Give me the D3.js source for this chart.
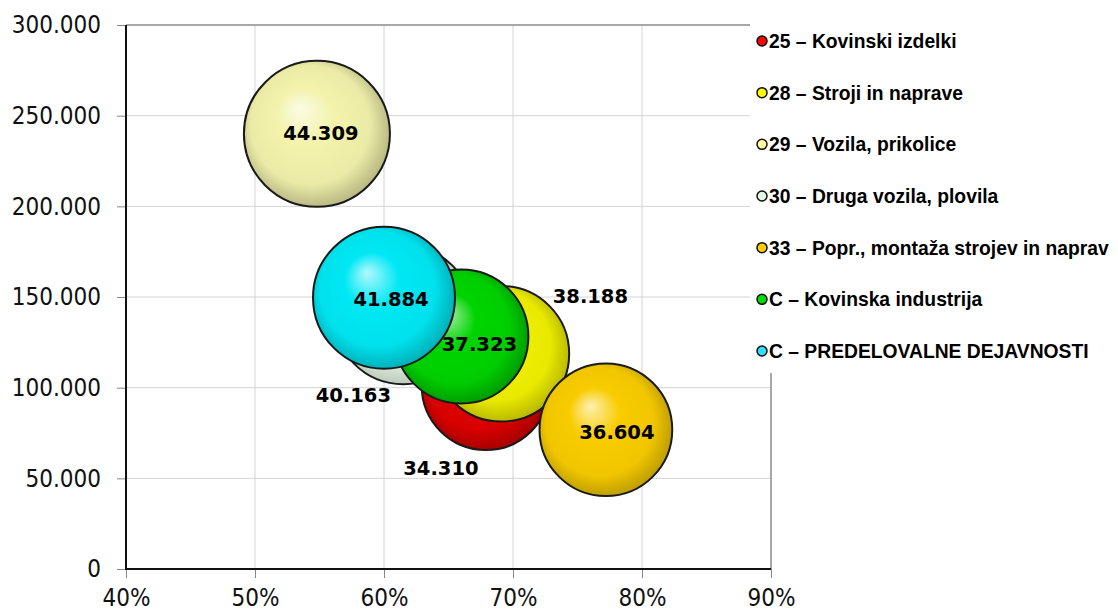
<!DOCTYPE html>
<html><head><meta charset="utf-8">
<script src="https://cdn.jsdelivr.net/npm/d3@7"></script>
<style>body{margin:0;background:#fff;} svg{display:block;}</style>
</head><body><svg id="c" width="1118" height="614"></svg>
<script>
// ---- data ----
const seriesNames = ["25 – Kovinski izdelki","28 – Stroji in naprave","29 – Vozila, prikolice","30 – Druga vozila, plovila","33 – Popr., montaža strojev in naprav","C – Kovinska industrija","C – PREDELOVALNE DEJAVNOSTI"];
const xValues = [0.679, 0.691, 0.548, 0.615, 0.772, 0.660, 0.600];
const yValues = [101000, 118700, 240000, 140200, 76800, 128200, 149600];
const bubbleSizes = [34.310, 38.188, 44.309, 40.163, 36.604, 37.323, 41.884];
const bubbleLabels = ["34.310","38.188","44.309","40.163","36.604","37.323","41.884"];
const xTicks = [0.4, 0.5, 0.6, 0.7, 0.8, 0.9];
const yTicks = [0, 50000, 100000, 150000, 200000, 250000, 300000];

// ---- styles ----
const colors = ["#e00000","#f0f000","#f3f3ac","#e2f2e2","#f8cc00","#00d400","#00e8f4"];
const darkAmt = [1.0, 0.85, 0.9, 0.6, 0.85, 1.0, 0.9];
const legendColors = ["#ff0000","#ffff00","#ffffa0","#e2f5e2","#ffcc00","#00dd00","#33ddff"];
const labelOffsets = [[-45,82],[89,-58],[4,-1],[-50,80],[11,2],[18,7],[7,1]];

const svg = d3.select("#c");
const L = 126, R = 771, T = 25, B = 569;
const x = d3.scaleLinear().domain([0.4, 0.9]).range([L, R]);
const y = d3.scaleLinear().domain([0, 300000]).range([B, T]);
const r = d3.scaleSqrt().domain([0, 44.309]).range([0, 73]);

// grid
svg.append("g").selectAll("line").data(xTicks.slice(1, -1)).join("line")
  .attr("x1", d => x(d)).attr("x2", d => x(d)).attr("y1", T).attr("y2", B)
  .attr("stroke", "#d4d4d4").attr("stroke-width", 1);
svg.append("g").selectAll("line").data(yTicks.slice(1, -1)).join("line")
  .attr("x1", L).attr("x2", R).attr("y1", d => y(d)).attr("y2", d => y(d))
  .attr("stroke", "#d4d4d4").attr("stroke-width", 1);
// plot border (top/right)
svg.append("path").attr("d", `M${L},${T}H${R}V${B}`).attr("fill", "none")
  .attr("stroke", "#8c8c8c").attr("stroke-width", 1.5);

// axes
const yFmt = v => v === 0 ? "0" : d3.format(",")(v).replace(/,/g, ".");
const yAxis = svg.append("g").attr("transform", `translate(${L},0)`)
  .call(d3.axisLeft(y).tickValues(yTicks).tickFormat(yFmt).tickSize(9).tickPadding(16));
const xAxis = svg.append("g").attr("transform", `translate(0,${B})`)
  .call(d3.axisBottom(x).tickValues(xTicks).tickFormat(d3.format(".0%")).tickSize(9).tickPadding(11));
[yAxis, xAxis].forEach(g => {
  g.select(".domain").remove();
  g.selectAll(".tick line").attr("stroke", "#888").attr("stroke-width", 1);
  g.selectAll("text").attr("font-family", "'DejaVu Sans Condensed','DejaVu Sans',sans-serif")
    .attr("font-size", 24).attr("fill", "#111");
});
svg.append("path").attr("d", `M${L},${T}V${B}H${R}`).attr("fill", "none")
  .attr("stroke", "#111").attr("stroke-width", 2);

// gradients
const defs = svg.append("defs");
colors.forEach((c, i) => {
  const g = defs.append("radialGradient").attr("id", "g" + i)
    .attr("cx", "48%").attr("cy", "48%").attr("r", "55%").attr("fx", "38%").attr("fy", "32%");
  const base = d3.color(c);
  g.append("stop").attr("offset", "0%").attr("stop-color", d3.interpolateRgb(c, "#fff")(0.7));
  g.append("stop").attr("offset", "35%").attr("stop-color", c);
  g.append("stop").attr("offset", "74%").attr("stop-color", base.darker(0.1 * darkAmt[i]));
  g.append("stop").attr("offset", "100%").attr("stop-color", base.darker(darkAmt[i]));
});

const idx = d3.range(seriesNames.length);
svg.append("g").selectAll("circle").data(idx).join("circle")
  .attr("cx", i => x(xValues[i])).attr("cy", i => y(yValues[i]))
  .attr("r", i => r(bubbleSizes[i]))
  .attr("fill", i => `url(#g${i})`).attr("stroke", "#1a1a1a").attr("stroke-width", 2);

svg.append("g").selectAll("text").data(idx).join("text")
  .attr("x", i => x(xValues[i]) + labelOffsets[i][0])
  .attr("y", i => y(yValues[i]) + labelOffsets[i][1])
  .attr("text-anchor", "middle").attr("dy", "0.36em")
  .attr("font-family", "'DejaVu Sans',sans-serif").attr("font-weight", "bold")
  .attr("font-size", 19.5).attr("fill", "#000")
  .text(i => bubbleLabels[i]);

// legend
const lg = svg.append("g");
lg.append("rect").attr("x", 750).attr("y", 18).attr("width", 368).attr("height", 355).attr("fill", "#fff");
const ly = d3.scaleLinear().domain([0, 6]).range([41, 351]);
const items = lg.selectAll("g").data(idx).join("g").attr("transform", i => `translate(0,${ly(i)})`);
items.append("circle").attr("cx", 762).attr("cy", 0).attr("r", 5)
  .attr("fill", i => legendColors[i]).attr("stroke", "#111").attr("stroke-width", 1.5);
items.append("text").attr("x", 769).attr("dy", "0.36em")
  .attr("font-family", "'Liberation Sans',Arial,sans-serif").attr("font-weight", "bold")
  .attr("font-size", 19.3).attr("fill", "#000").text(i => seriesNames[i]);
</script></body></html>
